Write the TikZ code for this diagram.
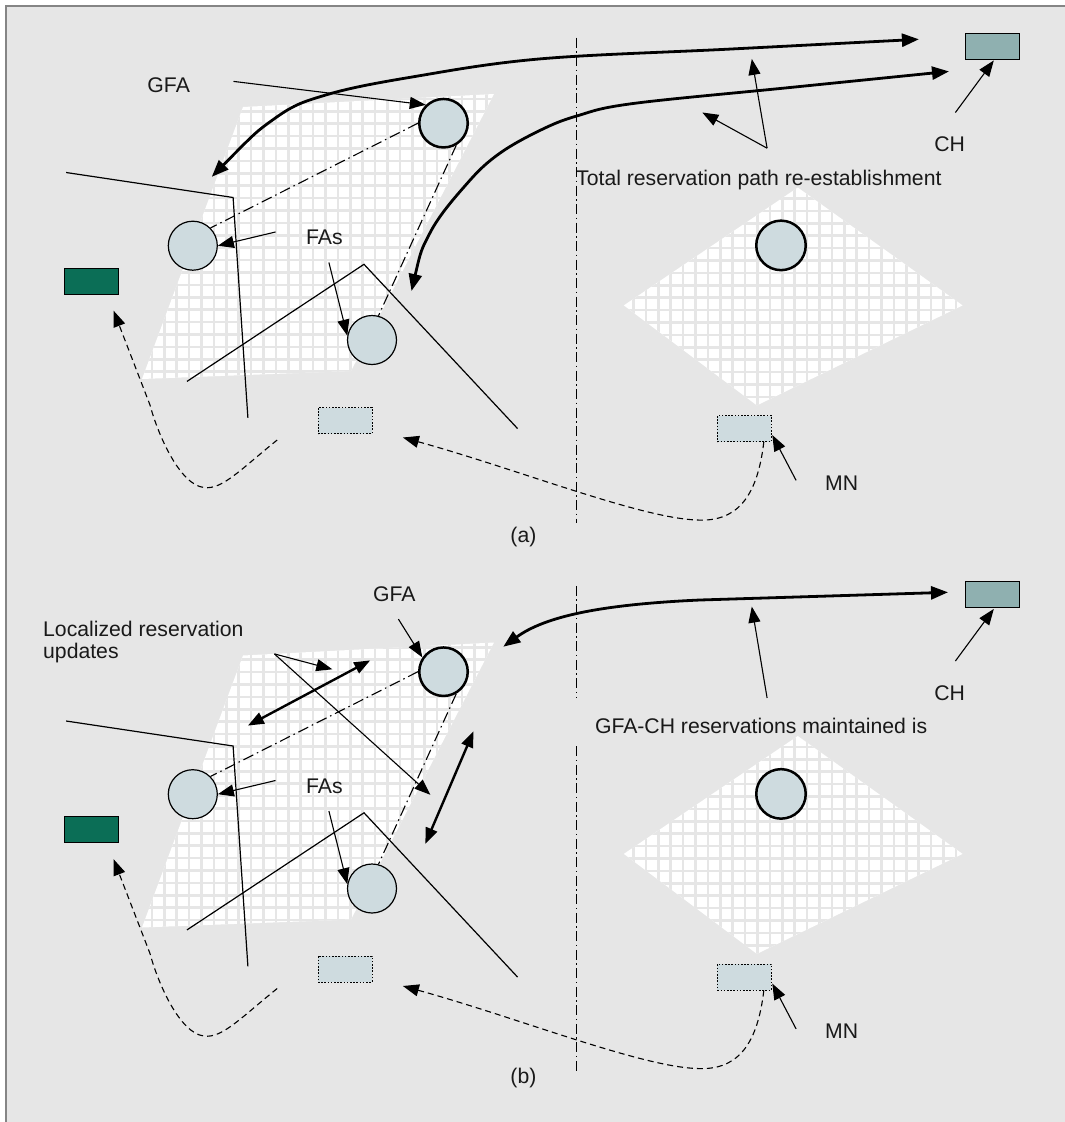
\documentclass[tikz,border=0pt]{standalone}
\usepackage{fontspec}
\setmainfont{Liberation Sans}
\usetikzlibrary{arrows.meta,calc}
\definecolor{bgc}{HTML}{E6E6E6}
\definecolor{framec}{HTML}{858585}
\definecolor{nodefill}{HTML}{CEDBDF}
\definecolor{chfill}{HTML}{8FB0B0}
\definecolor{greenfill}{HTML}{0B6E56}
\tikzset{
  lbl/.style={font=\fontsize{21.2}{22.5}\selectfont, inner sep=0pt, text=black!90},
  thinln/.style={line width=1.2pt},
  gridln/.style={draw=bgc, line width=2.6pt},
  ptr/.style={line width=1.1pt, -{Triangle[length=16pt,width=12pt]}},
  thickarr/.style={line width=2.8pt, {Triangle[length=17pt,width=13pt]}-{Triangle[length=17pt,width=13pt]}},
  dblarr/.style={line width=2.4pt, {Triangle[length=16pt,width=12pt]}-{Triangle[length=16pt,width=12pt]}},
  dashdot/.style={line width=1.1pt, dash pattern=on 11pt off 4pt on 1.5pt off 4pt},
  sepline/.style={line width=1.1pt, dash pattern=on 10pt off 3.5pt on 1.5pt off 3.5pt},
  dashcurve/.style={line width=1.1pt, dash pattern=on 6pt off 4pt, -{Triangle[length=16pt,width=12pt]}},
  fanode/.style={circle, draw=black, line width=1.2pt, fill=nodefill, minimum size=49pt, inner sep=0pt},
  gfanode/.style={circle, draw=black, line width=2.5pt, fill=nodefill, minimum size=48.5pt, inner sep=0pt},
  greenbox/.style={rectangle, draw=black, line width=1pt, fill=greenfill, minimum width=54pt, minimum height=26pt, inner sep=0pt},
  chbox/.style={rectangle, draw=black, line width=1pt, fill=chfill, minimum width=54pt, minimum height=26pt, inner sep=0pt},
  mnbox/.style={rectangle, draw=black, line width=1pt, dash pattern=on 1.6pt off 1.6pt, fill=nodefill, minimum width=54pt, minimum height=26pt, inner sep=0pt},
}
\newcommand\panelcommon{%
  \begin{scope}
    \clip (243,107) -- (494,94) -- (351,371) -- (142,379) -- cycle;
    \fill[white] (130,85) rectangle (500,385);
    \draw[gridln] \foreach \i in {0,...,30} {(139.5+\i*12.4,85) -- ++(0,300)};
    \draw[gridln] \foreach \i in {0,...,25} {(130,74+\i*12.4) -- ++(370,0)};
  \end{scope}
  \begin{scope}
    \clip (797.8,187.5) -- (962.6,305.4) -- (756.9,405.4) -- (623.8,305.4) -- cycle;
    \fill[white] (620,185) rectangle (965,410);
    \draw[gridln] \foreach \i in {0,...,28} {(621+\i*12.4,185) -- ++(0,225)};
    \draw[gridln] \foreach \i in {0,...,19} {(620,186+\i*12.4) -- ++(345,0)};
  \end{scope}
  \draw[thinln] (66.1,172.5) -- (233.1,197.5) -- (247.9,417.9);
  \draw[thinln] (187,381.4) -- (364,264.3) -- (517.6,428.6);
  \node[gfanode] (gfa) at (443.5,123.2) {};
  \node[fanode] (fa1) at (192.8,245.7) {};
  \node[fanode] (fa2) at (372,340) {};
  \node[gfanode, minimum size=49.5pt] (rc) at (781,245.4) {};
  \draw[dashdot] (gfa.180) -- (fa1.45);
  \draw[dashdot] (gfa.300) -- (fa2.75);
  \node[lbl] (fas) at (324.4,237.5) {FAs};
  \coordinate (fap1) at (275.5,232);
  \coordinate (fap2) at (328.9,262.5);
  \draw[ptr] (fap1) -- (fa1.east);
  \draw[ptr] (fap2) -- (fa2.170);
  \node[greenbox] (grn) at (91.6,281.25) {};
  \node[mnbox] (mnold) at (345,420.5) {};
  \node[chbox] (ch) at (992.3,46.45) {};
  \node[mnbox] (mn) at (744.3,428.55) {};
  \node[lbl] (chl) at (949.6,144.6) {CH};
  \coordinate (chp) at (955.4,112.5);
  \draw[ptr] (chp) -- ($(ch.south)+(1.5,0.5)$);
  \node[lbl] (mnl) at (841.6,483) {MN};
  \coordinate (mnp) at (796.1,480.4);
  \draw[ptr] (mnp) -- ($(mn.east)+(0.5,6.5)$);
  \coordinate (mnoldtip) at (402.9,437.5);
  \draw[dashcurve] ($(mn.south east)+(-8,0)$) .. controls (757,500) and (735,522) .. (697,520) .. controls (640,518) and (520,470) .. (mnoldtip);
  \coordinate (d2s) at (277.2,440);
  \coordinate (grntip) at (113.6,310.7);
  \draw[dashcurve] (d2s) .. controls (240,470) and (222,490) .. (204,487.5) .. controls (180,485) and (158,435) .. (150,405) -- (grntip);
}
\begin{document}
\begin{tikzpicture}[x=1pt,y=-1pt]
\useasboundingbox (0,0) rectangle (1065,1122);
\fill[white] (0,0) rectangle (1065,1122);
\fill[bgc] (6,6) rectangle (1065,1122);
\draw[framec, line width=2pt] (6,1122) -- (6,6) -- (1065,6);

% ---------------- panel (a)
\begin{scope}[name prefix=a-]
  \panelcommon
  \node[lbl] (gfal) at (168.7,85) {GFA};
  \coordinate (gfap) at (233.5,81.4);
  \draw[ptr] (gfap) -- (gfa.134);
  \coordinate (c1l) at (211.8,176.8);
  \coordinate (c1r) at (918.9,39.3);
  \draw[thickarr] plot[smooth, tension=0.6] coordinates {(c1l) (275.5,117.9) (327.1,94.6) (413.2,76.8) (540,58.9) (729.5,49.1) (c1r)};
  \coordinate (c2l) at (411.5,291);
  \coordinate (c2r) at (949,71.4);
  \draw[thickarr] plot[smooth, tension=0.6] coordinates {(c2l) (430.4,232.1) (468.3,182.1) (499.3,153.6) (540,130.4) (576.7,116) (632.4,103.6) (790,87.5) (c2r)};
  \node[lbl, anchor=base west] (tot) at (576,185) {Total reservation path re-establishment};
  \coordinate (totp) at (767.1,148.2);
  \coordinate (tott1) at (751.8,58.9);
  \coordinate (tott2) at (702.3,112.5);
  \draw[ptr] (totp) -- (tott1);
  \draw[ptr] (totp) -- (tott2);
  \draw[sepline] (576.7,37.5) -- (576.7,523);
  \node[lbl] (la) at (523.4,537) {(a)};
\end{scope}

% ---------------- panel (b)
\begin{scope}[shift={(0,548.5)}, name prefix=b-]
  \panelcommon
  \node[lbl] (gfal) at (394.3,45.5) {GFA};
  \coordinate (gfap) at (398.4,70.6);
  \draw[ptr] (gfap) -- (gfa.146);
  \node[lbl, anchor=base west] (loc1) at (43,87.5) {Localized reservation};
  \node[lbl, anchor=base west] (loc2) at (43,110) {updates};
  \coordinate (locp) at (274.4,105.4);
  \coordinate (loct1) at (332.3,120.8);
  \coordinate (loct2) at (430.4,246.3);
  \draw[ptr] (locp) -- (loct1);
  \draw[ptr] (locp) -- (loct2);
  \coordinate (u1a) at (247.9,177.1);
  \coordinate (u1b) at (370.2,111.9);
  \coordinate (u2a) at (473.5,182.8);
  \coordinate (u2b) at (425.3,295.4);
  \draw[dblarr] (u1a) -- (u1b);
  \draw[dblarr] (u2a) -- (u2b);
  \coordinate (c3l) at (503.3,98.2);
  \coordinate (c3r) at (948,43.8);
  \draw[thickarr] (c3l) .. controls (545,68) and (600,56) .. (700,51.5) -- (c3r);
  \node[lbl, anchor=base west] (gch) at (594.8,184.5) {GFA-CH reservations maintained is};
  \coordinate (gchp) at (767.1,149.5);
  \coordinate (gcht) at (751.8,58.1);
  \draw[ptr] (gchp) -- (gcht);
  \draw[sepline] (576.7,37.3) -- (576.7,149.5);
  \draw[sepline] (576.7,197.9) -- (576.7,522.2);
  \node[lbl] (lb) at (523.4,529) {(b)};
\end{scope}
\end{tikzpicture}
\end{document}
